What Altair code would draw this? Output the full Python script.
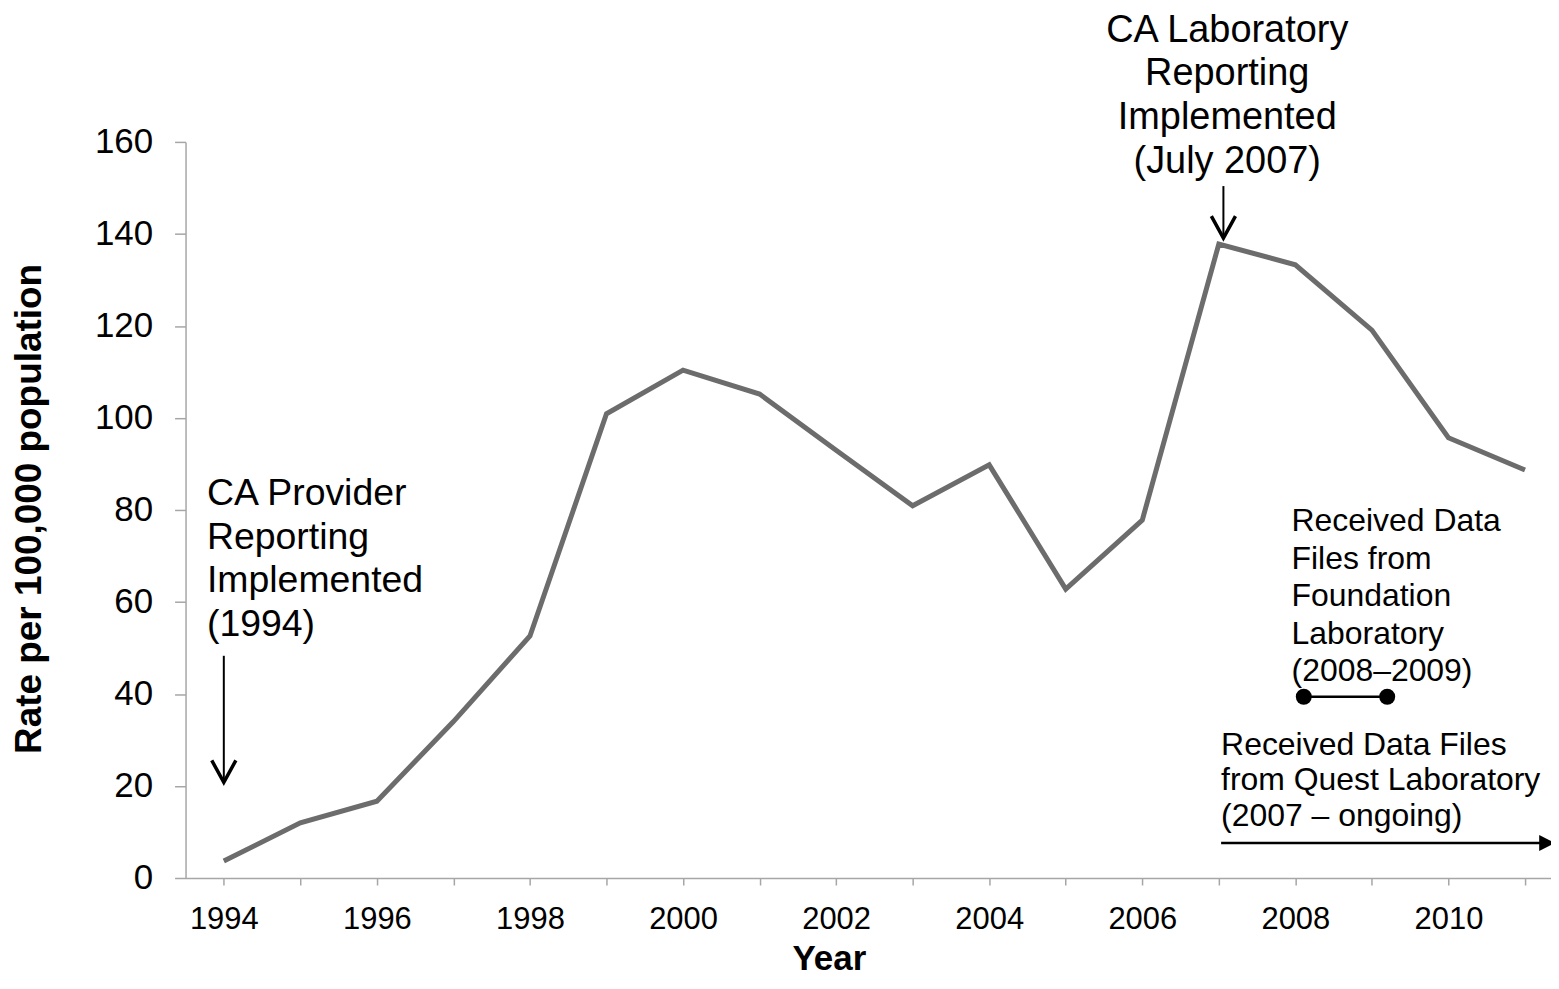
import altair as alt
import pandas as pd

# ---- data ----
years = list(range(1994, 2012))
rates = [3.7, 12.0, 16.7, 34.0, 52.6, 100.9, 110.4, 105.2, 93.0, 80.9,
         89.8, 62.8, 77.8, 137.8, 133.3, 119.1, 95.7, 88.7]

y_ticks = [0, 20, 40, 60, 80, 100, 120, 140, 160]
x_ticks = years

# annotation texts
prov_text = ["CA Provider\nReporting\nImplemented\n(1994)"]
prov_text_x = [1993.78]
prov_text_y = [81.0]
prov_arrow_x = [1994.0]
prov_arrow_top = [48.3]
prov_arrow_tip = [20.8]

lab_text = ["CA Laboratory\nReporting\nImplemented\n(July 2007)"]
lab_text_x = [2007.11]
lab_text_y = [181.8]
lab_arrow_x = [2007.06]
lab_arrow_top = [150.4]
lab_arrow_tip = [139.1]

found_text = ["Received Data\nFiles from\nFoundation\nLaboratory\n(2008\u20132009)"]
found_text_x = [2007.95]
found_text_y = [75.4]
found_start = [2008.11]
found_end = [2009.2]
found_level = [39.4]

quest_text = ["Received Data Files\nfrom Quest Laboratory\n(2007 \u2013 ongoing)"]
quest_text_x = [2007.03]
quest_text_y = [26.8]
quest_start = [2007.03]
quest_end = [2011.29]
quest_level = [7.6]

FONT = "Liberation Sans"
AXIS_GRAY = "#a6a6a6"

x_scale = alt.Scale(domain=[1993.5, 2011.34], nice=False, zero=False)
y_scale = alt.Scale(domain=[0, 160], nice=False, zero=True)

x_axis = alt.Axis(
    values=x_ticks, format="d",
    labelExpr="datum.value % 2 == 0 ? datum.label : ''",
    title="Year", titleFontSize=35, titleFontWeight="bold", titleFont=FONT,
    titleX=645, titleY=92, titleAlign="center", titleBaseline="alphabetic",
    labelFontSize=31, labelFont=FONT, labelColor="black", labelPadding=20,
    tickSize=7, tickWidth=1.5, tickColor=AXIS_GRAY,
    domainColor=AXIS_GRAY, domainWidth=1.5, grid=False, labelFlush=False,
)
y_axis = alt.Axis(
    values=y_ticks,
    title="Rate per 100,000 population", titleFontSize=37, titleFontWeight="bold",
    titleFont=FONT, titleAngle=-90, titleX=-156, titleY=367.5,
    titleAlign="center", titleBaseline="middle",
    labelFontSize=35, labelFont=FONT, labelColor="black", labelPadding=22,
    tickSize=11, tickWidth=1.5, tickColor=AXIS_GRAY,
    domainColor=AXIS_GRAY, domainWidth=1.5, grid=False,
)

df = pd.DataFrame({"year": years, "value": rates})
line = alt.Chart(df).mark_line(color="#6c6c6c", strokeWidth=5).encode(
    x=alt.X("year:Q", scale=x_scale, axis=x_axis),
    y=alt.Y("value:Q", scale=y_scale, axis=y_axis),
)

V_SHAPE = "M-0.55,-1L0,0L0.55,-1"


def vertical_arrow(xs, tops, tips):
    d = pd.DataFrame({"year": xs, "value": tops, "tip": tips})
    shaft = alt.Chart(d).mark_rule(color="black", strokeWidth=2).encode(
        x="year:Q", y="value:Q", y2="tip:Q")
    head = alt.Chart(d).mark_point(
        shape=V_SHAPE, size=1936, filled=False, color="black",
        strokeWidth=3.5, opacity=1).encode(x="year:Q", y="tip:Q")
    return shaft + head


def text_layer(texts, xs, ys, size, align, line_height):
    d = pd.DataFrame({"year": xs, "value": ys, "label": texts})
    return alt.Chart(d).mark_text(
        font=FONT, fontSize=size, align=align, baseline="alphabetic",
        lineBreak="\n", lineHeight=line_height, color="black",
    ).encode(x="year:Q", y="value:Q", text="label:N")


prov = text_layer(prov_text, prov_text_x, prov_text_y, 37.5, "left", 43.5)
prov_arrow = vertical_arrow(prov_arrow_x, prov_arrow_top, prov_arrow_tip)

lab = text_layer(lab_text, lab_text_x, lab_text_y, 38, "center", 43.8)
lab_arrow = vertical_arrow(lab_arrow_x, lab_arrow_top, lab_arrow_tip)

found = text_layer(found_text, found_text_x, found_text_y, 32, "left", 37.6)
fd = pd.DataFrame({"year": found_start, "end": found_end, "value": found_level})
found_rule = alt.Chart(fd).mark_rule(color="black", strokeWidth=2.5).encode(
    x="year:Q", x2="end:Q", y="value:Q")
fpts = pd.DataFrame({"year": found_start + found_end,
                     "value": found_level + found_level})
found_dots = alt.Chart(fpts).mark_point(
    shape="circle", size=256, filled=True, color="black", opacity=1).encode(
    x="year:Q", y="value:Q")

quest = text_layer(quest_text, quest_text_x, quest_text_y, 32, "left", 35.8)
qd = pd.DataFrame({"year": quest_start, "end": quest_end, "value": quest_level})
quest_rule = alt.Chart(qd).mark_rule(color="black", strokeWidth=2.5).encode(
    x="year:Q", x2="end:Q", y="value:Q")
qhead = pd.DataFrame({"year": quest_end, "value": quest_level})
quest_head = alt.Chart(qhead).mark_point(
    shape="M-1,-1L1,0L-1,1Z", size=256, filled=True, color="black",
    opacity=1).encode(x="year:Q", y="value:Q")

chart = alt.layer(
    line, prov, prov_arrow, lab, lab_arrow,
    found, found_rule, found_dots, quest, quest_rule, quest_head,
).properties(
    width=1369, height=738,
    autosize=alt.AutoSizeParams(type="none"),
    padding={"left": 178, "top": 133, "right": 0, "bottom": 98},
    background="white",
).configure(font=FONT).configure_view(stroke=None)

chart.save("out.html", embed_options={"renderer": "svg", "actions": False})
